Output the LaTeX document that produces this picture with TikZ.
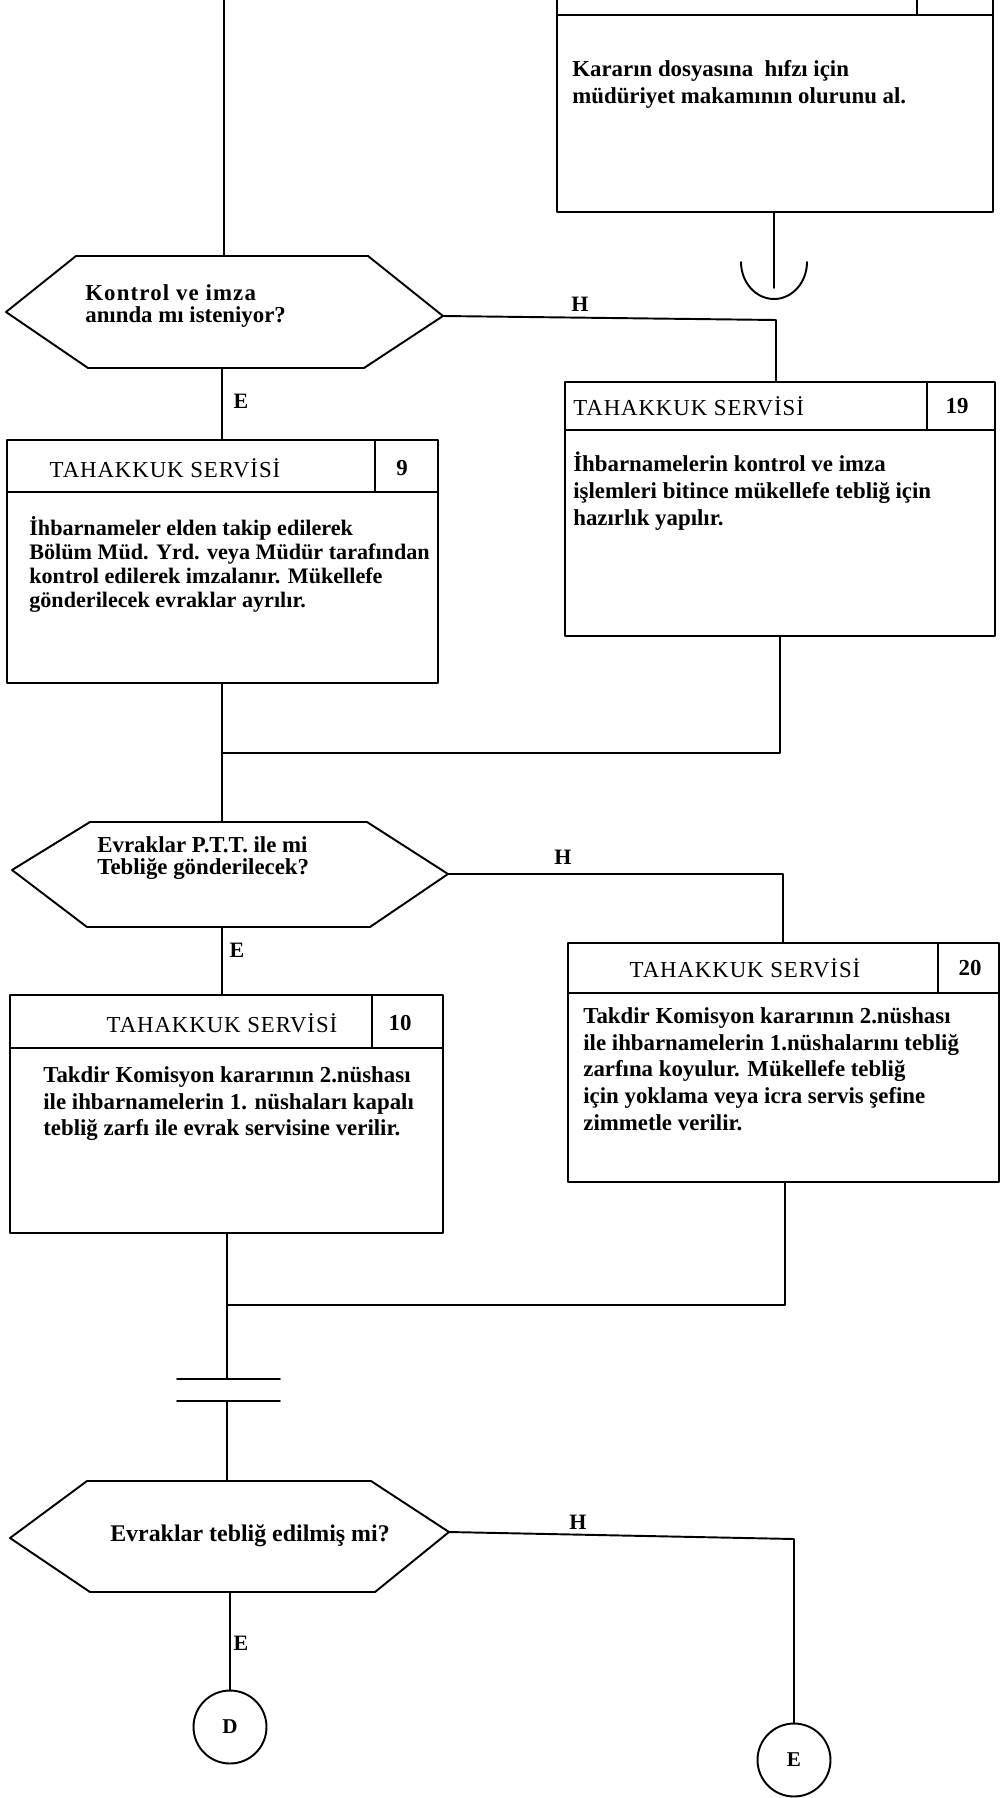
\documentclass[tikz,border=0pt]{standalone}
\usepackage{fontspec}
\setmainfont{Liberation Serif}
\usetikzlibrary{fit,calc}
\begin{document}
\begin{tikzpicture}[x=0.02cm,y=-0.02cm,
  ln/.style={line width=1.1pt, line cap=round, line join=round},
  boxframe/.style={ln, draw, inner sep=0pt, fit={#1}},
  bodytext/.style={anchor=north west, align=left, inner sep=0pt,
    font=\bfseries\fontsize{13}{15.3}\selectfont},
  asktext/.style={anchor=west, align=left, inner sep=0pt,
    font=\bfseries\fontsize{13}{12.6}\selectfont},
  hdtext/.style={inner sep=0pt, font=\fontsize{13}{15}\selectfont\addfontfeatures{LetterSpace=4}},
  numtext/.style={inner sep=0pt, font=\bfseries\fontsize{13}{15}\selectfont},
  answer/.style={inner sep=0pt, font=\bfseries\fontsize{12.5}{15}\selectfont},
  linkcircle/.style={ln, draw, circle, minimum size=1.46cm, inner sep=0pt,
    font=\bfseries\fontsize{12}{14}\selectfont}
]
\clip (0,0) rectangle (1001,1798);

% ---- top right box (continued from previous page)
\node[boxframe={(557,-30) (993,212)}] (b18) {};
\draw[ln] (557,15) -- (993,15);
\draw[ln] (917,-30) -- (917,15);
\node[bodytext] (t18) at (572,60) {Kararın dosyasına\ \ hıfzı için\\müdüriyet makamının olurunu al.};
\coordinate (c18) at (774,288);
\draw[ln] (c18 |- b18.south) -- (c18);
\coordinate (u18) at (774,262);
\draw[ln] ([xshift=-0.66cm]u18) arc[start angle=180, end angle=360, x radius=0.66cm, y radius=0.74cm];

% ---- first decision
\coordinate (topin) at (224,-5);
\coordinate (h1w) at (6,312);
\coordinate (h1nw) at (76,256);
\coordinate (h1ne) at (368,256);
\coordinate (h1e) at (443,316);
\coordinate (h1se) at (364,368);
\coordinate (h1sw) at (88,368);
\draw[ln] (h1w) -- (h1nw) -- (h1ne) -- (h1e) -- (h1se) -- (h1sw) -- cycle;
\node[asktext] (q1) at (85,306) {{\addfontfeatures{LetterSpace=5}Kontrol ve imza}\\anında mı isteniyor?};
\draw[ln] (topin) -- (topin |- h1nw);

% ---- box 9
\node[boxframe={(7,440) (438,683)}] (b9) {};
\draw[ln] (7,492) -- (438,492);
\draw[ln] (375,440) -- (375,492);
\node[hdtext] (s9) at (165,468) {TAHAKKUK SERVİSİ};
\node[numtext] (n9) at (402,468) {9};
\node[bodytext, font=\bfseries\fontsize{12.6}{13.6}\selectfont] (t9) at (29,516) {İhbarnameler elden takip edilerek\\Bölüm Müd. Yrd. veya Müdür tarafından\\kontrol edilerek imzalanır. Mükellefe\\gönderilecek evraklar ayrılır.};

\coordinate (h1s) at (222,368);
\draw[ln] (h1s) -- (h1s |- b9.north);
\node[answer] (e1) at (241,401) {E};

% ---- box 19
\node[boxframe={(565,382) (995,636)}] (b19) {};
\draw[ln] (565,430) -- (995,430);
\draw[ln] (927,382) -- (927,430);
\node[hdtext, anchor=west] (s19) at (573,406) {TAHAKKUK SERVİSİ};
\node[numtext] (n19) at (957,406) {19};
\node[bodytext] (t19) at (573,452) {İhbarnamelerin kontrol ve imza\\işlemleri bitince mükellefe tebliğ için\\hazırlık yapılır.};

\coordinate (k1) at (776,320);
\draw[ln] (h1e) -- (k1) -- (k1 |- b19.north);
\node[answer] (hh1) at (580,304) {H};

% ---- first join
\coordinate (m1) at (222,753);
\coordinate (m1r) at (780,753);
\draw[ln] (m1 |- b9.south) -- (m1);
\draw[ln] (m1r |- b19.south) -- (m1r) -- (m1);

% ---- second decision
\coordinate (h2w) at (12,870);
\coordinate (h2nw) at (90,822);
\coordinate (h2ne) at (367,822);
\coordinate (h2e) at (448,874);
\coordinate (h2se) at (370,927);
\coordinate (h2sw) at (87,927);
\draw[ln] (h2w) -- (h2nw) -- (h2ne) -- (h2e) -- (h2se) -- (h2sw) -- cycle;
\node[asktext] (q2) at (97,858) {Evraklar P.T.T. ile mi\\Tebliğe gönderilecek?};
\draw[ln] (m1) -- (m1 |- h2nw);

% ---- box 10
\node[boxframe={(10,995) (443,1233)}] (b10) {};
\draw[ln] (10,1048) -- (443,1048);
\draw[ln] (372,995) -- (372,1048);
\node[hdtext] (s10) at (222,1023) {TAHAKKUK SERVİSİ};
\node[numtext] (n10) at (400,1023) {10};
\node[bodytext] (t10) at (43,1066) {Takdir Komisyon kararının 2.nüshası\\ile ihbarnamelerin 1. nüshaları kapalı\\tebliğ zarfı ile evrak servisine verilir.};

\coordinate (h2s) at (222,927);
\draw[ln] (h2s) -- (h2s |- b10.north);
\node[answer] (e2) at (237,950) {E};

% ---- box 20
\node[boxframe={(568,943) (999,1182)}] (b20) {};
\draw[ln] (568,993) -- (999,993);
\draw[ln] (938,943) -- (938,993);
\node[hdtext] (s20) at (745,968) {TAHAKKUK SERVİSİ};
\node[numtext] (n20) at (970,968) {20};
\node[bodytext] (t20) at (583,1007) {Takdir Komisyon kararının 2.nüshası\\ile ihbarnamelerin 1.nüshalarını tebliğ\\zarfına koyulur. Mükellefe tebliğ\\için yoklama veya icra servis şefine\\zimmetle verilir.};

\coordinate (k2) at (783,874);
\draw[ln] (h2e) -- (k2) -- (k2 |- b20.north);
\node[answer] (hh2) at (563,857) {H};

% ---- second join
\coordinate (m2) at (227,1305);
\coordinate (m2r) at (785,1305);
\draw[ln] (m2 |- b10.south) -- (m2);
\draw[ln] (m2r |- b20.south) -- (m2r) -- (m2);

% ---- break symbol
\coordinate (g1) at (227,1379);
\coordinate (g2) at (227,1401);
\draw[ln] (m2) -- (g1);
\draw[ln] ([xshift=-1.0cm]g1) -- ([xshift=1.06cm]g1);
\draw[ln] ([xshift=-1.0cm]g2) -- ([xshift=1.06cm]g2);

% ---- third decision
\coordinate (h3w) at (10,1538);
\coordinate (h3nw) at (87,1481);
\coordinate (h3ne) at (371,1481);
\coordinate (h3e) at (449,1532);
\coordinate (h3se) at (375,1592);
\coordinate (h3sw) at (90,1592);
\draw[ln] (h3w) -- (h3nw) -- (h3ne) -- (h3e) -- (h3se) -- (h3sw) -- cycle;
\node[inner sep=0pt, font=\bfseries\fontsize{13.6}{15}\selectfont] (q3) at (250,1536) {Evraklar tebliğ edilmiş mi?};
\draw[ln] (g2) -- (g2 |- h3nw);

% ---- off-page connectors
\node[linkcircle] (cD) at (230,1727) {D};
\node[linkcircle] (cE) at (794,1760) {E};
\coordinate (h3s) at (230,1592);
\draw[ln] (h3s) -- (cD.north);
\node[answer] (e3) at (241,1643) {E};
\coordinate (k3) at (794,1539);
\draw[ln] (h3e) -- (k3) -- (cE.north);
\node[answer] (hh3) at (578,1522) {H};
\end{tikzpicture}
\end{document}
